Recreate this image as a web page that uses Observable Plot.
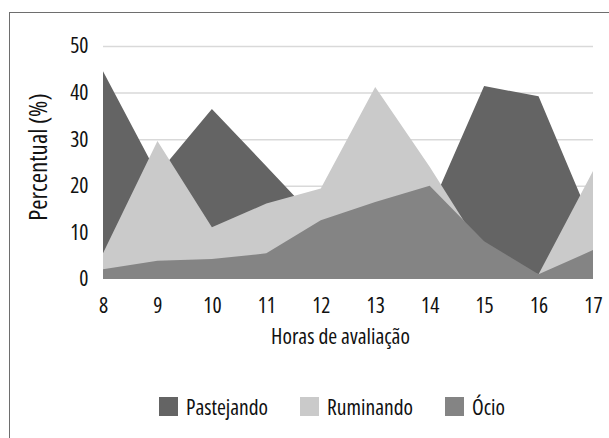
<!DOCTYPE html>
<html>
<head>
<meta charset="utf-8">
<script src="https://cdn.jsdelivr.net/npm/d3@7"></script>
<script src="https://cdn.jsdelivr.net/npm/@observablehq/plot@0.6"></script>
<style>
html, body { margin: 0; padding: 0; background: #fff; overflow: hidden; width: 609px; height: 438px; }
#wrap { position: relative; width: 609px; height: 438px; font-family: "Open Sans", "DejaVu Sans Condensed", sans-serif; font-stretch: 75%; color: #111; }
svg text { font-stretch: 75%; }
#frame { position: absolute; left: 9px; top: 12px; width: 640px; height: 470px; border: 1px solid #6e6e6e; box-sizing: border-box; pointer-events: none; }
#chart { position: absolute; left: 0; top: 0; }
#legend { position: absolute; left: 159px; top: 396px; display: flex; align-items: center; font-size: 21.5px; line-height: 21px; }
.item { display: flex; align-items: center; margin-right: 32px; }
.sw { width: 19px; height: 19px; margin-right: 8px; }
</style>
</head>
<body>
<div id="wrap">
  <div id="frame"></div>
  <div id="chart"></div>
  <div id="legend"></div>
</div>
<script>
const hours = [8, 9, 10, 11, 12, 13, 14, 15, 16, 17];
const pastejando = [44.6, 22.5, 36.5, 24.2, 11.8, 0, 14.7, 41.4, 39.2, 11.5];
const ruminando = [5.5, 29.6, 11.1, 16.2, 19.4, 41.2, 24.1, 5.6, 1.0, 23.2];
const ocio = [2.1, 3.9, 4.3, 5.5, 12.6, 16.5, 20.0, 8.1, 1.0, 6.2];
const seriesNames = ["Pastejando", "Ruminando", "Ócio"];
const seriesColors = ["#646464", "#cacaca", "#848484"];
const yTicks = [0, 10, 20, 30, 40, 50];
const xLabel = "Horas de avaliação";
const yLabel = "Percentual (%)";

const seriesValues = [pastejando, ruminando, ocio];
const rows = seriesNames.map((s, k) => hours.map((h, i) => ({series: s, hour: h, value: seriesValues[k][i]})));

const font = '"Open Sans", "DejaVu Sans Condensed", sans-serif';

const chart = Plot.plot({
  width: 609,
  height: 360,
  marginLeft: 103,
  marginRight: 16,
  marginTop: 46,
  marginBottom: 81,
  style: {fontFamily: font, fontSize: "21.5px", fontStretch: "75%", color: "#111", background: "transparent"},
  x: {domain: [8, 17]},
  y: {domain: [0, 50]},
  color: {domain: seriesNames, range: seriesColors},
  marks: [
    Plot.gridY(yTicks.slice(1), {stroke: "#d9d9d9", strokeOpacity: 1, strokeWidth: 1.5}),
    ...rows.map(r => Plot.area(r, {x1: "hour", y1: 0, y2: "value", fill: "series", fillOpacity: 1})),
    Plot.axisX({ticks: hours, tickSize: 0, tickPadding: 18, label: null, tickFormat: d => String(d)}),
    Plot.axisY({ticks: yTicks, tickSize: 0, tickPadding: 15, label: null}),
    Plot.text([yLabel], {frameAnchor: "left", textAnchor: "middle", rotate: -90, dx: -65, dy: -6, fontSize: 25, fill: "#111"}),
    Plot.text([xLabel], {frameAnchor: "bottom", dy: 64, dx: -8, fontSize: 21.5, fill: "#111"})
  ]
});
document.getElementById("chart").appendChild(chart);

const legend = document.getElementById("legend");
seriesNames.forEach((s, k) => {
  const item = document.createElement("div");
  item.className = "item";
  const sw = document.createElement("span");
  sw.className = "sw";
  sw.style.background = seriesColors[k];
  const t = document.createElement("span");
  t.textContent = s;
  item.appendChild(sw);
  item.appendChild(t);
  legend.appendChild(item);
});
</script>
</body>
</html>
